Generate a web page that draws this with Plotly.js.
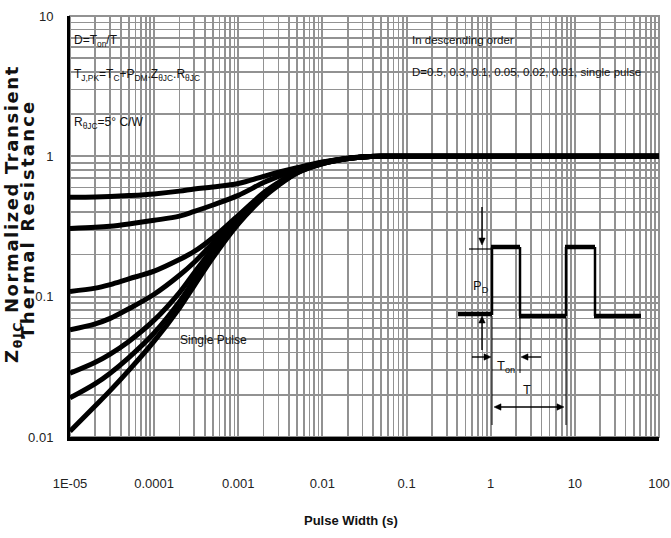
<!DOCTYPE html>
<html>
<head>
<meta charset="utf-8">
<script src="https://cdn.plot.ly/plotly-3.0.1.min.js"></script>
<style>
html,body{margin:0;padding:0;background:#fff;}
.annotation[data-index="0"] text{letter-spacing:1.6px;}
.annotation[data-index="1"] text{letter-spacing:2.2px;}
</style>
</head>
<body>
<div id="chart" style="width:671px;height:538px;"></div>
<script>
// ---- data ----
const pulseWidth = [1e-5, 2e-5, 3e-5, 5e-5, 1e-4, 2e-4, 3e-4, 5e-4, 1e-3, 2e-3, 3e-3, 5e-3, 1e-2, 2e-2, 3e-2, 5e-2, 0.1, 1, 10, 100];
const zD050   = [0.51, 0.513, 0.517, 0.525, 0.54, 0.565, 0.585, 0.605, 0.64, 0.72, 0.77, 0.83, 0.91, 0.97, 0.99, 1, 1, 1, 1, 1];
const zD030   = [0.306, 0.312, 0.318, 0.33, 0.35, 0.375, 0.405, 0.45, 0.527, 0.65, 0.72, 0.81, 0.905, 0.97, 0.99, 1, 1, 1, 1, 1];
const zD010   = [0.109, 0.115, 0.122, 0.134, 0.152, 0.184, 0.21, 0.263, 0.38, 0.55, 0.65, 0.78, 0.9, 0.965, 0.99, 1, 1, 1, 1, 1];
const zD005   = [0.058, 0.064, 0.07, 0.082, 0.104, 0.142, 0.176, 0.24, 0.365, 0.54, 0.64, 0.775, 0.895, 0.965, 0.99, 1, 1, 1, 1, 1];
const zD002   = [0.0285, 0.0341, 0.039, 0.048, 0.068, 0.107, 0.148, 0.22, 0.35, 0.53, 0.635, 0.77, 0.89, 0.965, 0.99, 1, 1, 1, 1, 1];
const zD001   = [0.019, 0.024, 0.0285, 0.0368, 0.0551, 0.092, 0.132, 0.205, 0.34, 0.52, 0.63, 0.765, 0.888, 0.965, 0.99, 1, 1, 1, 1, 1];
const zSingle = [0.011, 0.0167, 0.0214, 0.0298, 0.0482, 0.083, 0.12, 0.19, 0.33, 0.51, 0.62, 0.76, 0.883, 0.963, 0.99, 1, 1, 1, 1, 1];

const xTickVals = [1e-5, 1e-4, 1e-3, 1e-2, 1e-1, 1, 10, 100];
const xTickText = ['1E-05', '0.0001', '0.001', '0.01', '0.1', '1', '10', '100'];
const yTickVals = [0.01, 0.1, 1, 10];
const yTickText = ['0.01', '0.1', '1', '10'];

// ---- layout helpers ----
const W = 671, H = 538, ML = 70, MR = 12, MT = 16, MB = 101;
const PW = W - ML - MR, PH = H - MT - MB;
const PX = px => (px - ML) / PW;
const PY = py => (H - MB - py) / PH;

function minorVals(lo, hi) {
  const v = [];
  for (let e = lo; e < hi; e++) for (let d = 2; d <= 9; d++) v.push(d * Math.pow(10, e));
  return v;
}

const SANS = '"Liberation Sans", Arial, sans-serif';
const GRID = '#929292';

const series = [zD050, zD030, zD010, zD005, zD002, zD001, zSingle];
const traces = series.map(s => ({
  x: pulseWidth, y: s, type: 'scatter', mode: 'lines',
  line: {color: '#000', width: 5, shape: 'spline', smoothing: 1},
  hoverinfo: 'skip', showlegend: false
}));

const shapes = [];
function whiteBox(x0, y0, x1, y1) {
  shapes.push({type: 'rect', xref: 'paper', yref: 'paper', layer: 'between',
    x0: PX(x0), x1: PX(x1), y0: PY(y1), y1: PY(y0),
    fillcolor: '#fff', line: {width: 0}});
}
whiteBox(70, 16, 203, 145);   // top-left notes
whiteBox(408, 16, 657, 90);   // top-right notes
whiteBox(178, 322, 248, 358); // single pulse label
whiteBox(453, 166, 653, 408); // inset

// outer grey frame (top/right)
shapes.push({type: 'rect', xref: 'paper', yref: 'paper', layer: 'between',
  x0: 0, x1: 1, y0: 0, y1: 1, line: {color: GRID, width: 2}});

function seg(x0, y0, x1, y1, w) {
  shapes.push({type: 'line', xref: 'paper', yref: 'paper',
    x0: PX(x0), y0: PY(y0), x1: PX(x1), y1: PY(y1),
    line: {color: '#000', width: w}});
}
function head(tipX, tipY, dirX, dirY) {
  const L = 7, Hw = 3.2;
  const bx = tipX - dirX * L, by = tipY - dirY * L;
  const nx = -dirY, ny = dirX;
  const p = [[tipX, tipY], [bx + nx * Hw, by + ny * Hw], [bx - nx * Hw, by - ny * Hw]];
  const d = 'M ' + p.map(q => PX(q[0]) + ',' + PY(q[1])).join(' L ') + ' Z';
  shapes.push({type: 'path', xref: 'paper', yref: 'paper', path: d,
    fillcolor: '#000', line: {color: '#000', width: 0.5}});
}
function arrow(tipX, tipY, tailX, tailY, both) {
  const len = Math.hypot(tipX - tailX, tipY - tailY);
  const ux = (tipX - tailX) / len, uy = (tipY - tailY) / len;
  seg(both ? tailX + ux * 5 : tailX, both ? tailY + uy * 5 : tailY, tipX - ux * 5, tipY - uy * 5, 1.4);
  head(tipX, tipY, ux, uy);
  if (both) head(tailX, tailY, -ux, -uy);
}

// pulse train
seg(458, 314, 492, 314, 4.5);
seg(492, 315, 492, 247, 2.5);
seg(491, 247, 520, 247, 4.5);
seg(520, 247, 520, 316, 2.5);
seg(519, 316, 566, 316, 4.5);
seg(566, 316, 566, 247, 2.5);
seg(565, 247, 595, 247, 4.5);
seg(595, 247, 595, 316, 2.5);
seg(594, 316, 641, 316, 4.5);
// thin reference lines
seg(469, 249, 491, 249, 1.2);
seg(492, 316, 492, 425, 1);
seg(520, 318, 520, 373, 1);
seg(566, 318, 566, 425, 1);
// arrows
arrow(482, 245, 482, 207);
arrow(482, 316, 482, 350);
arrow(491, 357, 472, 357);
arrow(521, 357, 541, 357);
arrow(564, 407, 494, 407, true);

const annotations = [];
// y-axis title (two lines) -- indices 0 and 1 (letter spacing via CSS)
annotations.push({text: 'Z<sub>θJC</sub> Normalized Transient', xref: 'paper', yref: 'paper',
  x: PX(13), y: PY(214), xanchor: 'center', yanchor: 'middle', textangle: -90, showarrow: false,
  font: {family: '"DejaVu Sans", sans-serif', weight: 'bold', size: 18, color: '#111'}});
annotations.push({text: 'Thermal Resistance', xref: 'paper', yref: 'paper',
  x: PX(27), y: PY(219), xanchor: 'center', yanchor: 'middle', textangle: -90, showarrow: false,
  font: {family: '"DejaVu Sans", sans-serif', weight: 'bold', size: 18, color: '#111'}});
// x-axis title
annotations.push({text: 'Pulse Width (s)', xref: 'paper', yref: 'paper',
  x: PX(351), y: PY(520), xanchor: 'center', yanchor: 'middle', showarrow: false,
  font: {family: SANS, weight: 'bold', size: 13, color: '#111'}});

function txt(text, px, py, size, opts) {
  annotations.push(Object.assign({
    text: text, xref: 'paper', yref: 'paper', x: PX(px), y: PY(py),
    xanchor: 'left', yanchor: 'middle', showarrow: false,
    font: {family: SANS, size: size, color: '#111'}
  }, opts || {}));
}
txt('D=T<sub>on</sub>/T', 72, 41, 12);
txt('T<sub>J,PK</sub>=T<sub>C</sub>+P<sub>DM</sub>.Z<sub>θJC</sub>.R<sub>θJC</sub>', 72, 75, 12);
txt('R<sub>θJC</sub>=5° C/W', 72, 123, 12);
txt('In descending order', 410, 40, 11.5);
txt('D=0.5, 0.3, 0.1, 0.05, 0.02, 0.01, single pulse', 410, 72, 11.5);
txt('Single Pulse', 213, 340, 12, {xanchor: 'center'});
txt('P<sub>D</sub>', 481, 287, 13, {xanchor: 'center'});
txt('T<sub>on</sub>', 506, 366, 13, {xanchor: 'center'});
txt('T', 527, 389, 13, {xanchor: 'center'});

const layout = {
  width: W, height: H,
  margin: {l: ML, r: MR, t: MT, b: MB},
  paper_bgcolor: '#fff', plot_bgcolor: '#fff',
  showlegend: false,
  xaxis: {
    type: 'log', range: [-5, 2], tickmode: 'array', tickvals: xTickVals, ticktext: xTickText,
    showgrid: true, gridcolor: GRID, gridwidth: 2,
    minor: {tickmode: 'array', tickvals: minorVals(-5, 2), showgrid: true, gridcolor: GRID, gridwidth: 1.7, ticks: ''},
    showline: true, linecolor: '#000', linewidth: 4, zeroline: false,
    ticks: '', ticklabelstandoff: 31,
    tickfont: {family: SANS, size: 13, color: '#222'}
  },
  yaxis: {
    type: 'log', range: [-2, 1], tickmode: 'array', tickvals: yTickVals, ticktext: yTickText,
    showgrid: true, gridcolor: GRID, gridwidth: 2,
    minor: {tickmode: 'array', tickvals: minorVals(-2, 1), showgrid: true, gridcolor: GRID, gridwidth: 1.7, ticks: ''},
    showline: true, linecolor: '#000', linewidth: 3, zeroline: false,
    ticks: '', ticklabelstandoff: 11,
    tickfont: {family: SANS, size: 13, color: '#222'}
  },
  shapes: shapes,
  annotations: annotations
};

Plotly.newPlot('chart', traces, layout, {displayModeBar: false, staticPlot: true});
</script>
</body>
</html>
